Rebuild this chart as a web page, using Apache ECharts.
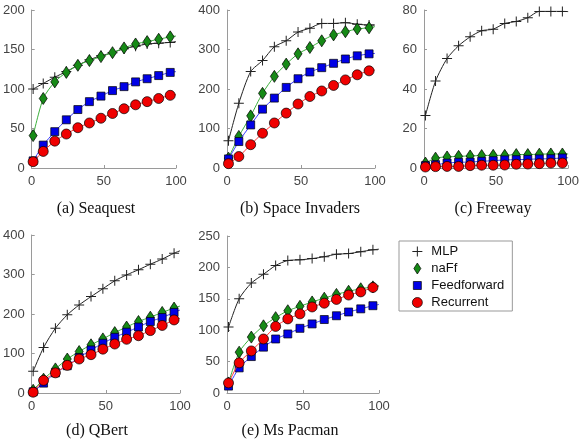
<!DOCTYPE html>
<html>
<head>
<meta charset="utf-8">
<script src="https://cdn.jsdelivr.net/npm/echarts@6/dist/echarts.min.js"></script>
<style>
  html, body { margin: 0; padding: 0; background: #fff; }
  #chart { width: 582px; height: 443px; }
</style>
</head>
<body>
<div id="chart"></div>
<script>
// x positions of the samples (last one is only the line end, no marker)
const xs = [1, 8, 16, 24, 32, 40, 48, 56, 64, 72, 80, 88, 96, 100];

const methods = ['MLP', 'naFf', 'Feedforward', 'Recurrent'];
const captions = ['(a) Seaquest', '(b) Space Invaders', '(c) Freeway', '(d) QBert', '(e) Ms Pacman'];
const yMax = [200, 400, 80, 400, 250];
const yStep = [50, 100, 20, 100, 50];
const xTicks = [0, 50, 100];

// (a) Seaquest
const seaquestMLP = [100, 107, 115, 122, 130, 137, 142, 146, 151, 154, 157, 158, 159, 160];
const seaquestNaFf = [41, 88, 109, 121, 130, 136, 141, 146, 152, 157, 160, 163, 166, 167];
const seaquestFF = [9, 29, 46, 61, 74, 84, 91, 98, 103, 109, 113, 117, 121, 122];
const seaquestRec = [8, 21, 34, 43, 51, 57, 63, 69, 75, 80, 84, 88, 92, 93];

// (b) Space Invaders
const invadersMLP = [69, 164, 244, 272, 307, 322, 344, 354, 366, 366, 368, 364, 362, 362];
const invadersNaFf = [25, 80, 132, 189, 232, 263, 289, 305, 322, 337, 345, 352, 355, 358];
const invadersFF = [23, 67, 109, 149, 177, 204, 226, 243, 254, 265, 276, 284, 289, 290];
const invadersRec = [11, 29, 59, 88, 114, 139, 162, 181, 195, 209, 223, 236, 246, 248];

// (c) Freeway
const freewayMLP = [26.6, 44, 55.4, 61.9, 66.4, 69.5, 70.3, 73.2, 74.2, 76.1, 79.3, 79.3, 79.3, 79.2];
const freewayNaFf = [2.5, 5, 5.6, 5.9, 6.1, 6.3, 6.4, 6.4, 6.8, 6.8, 7, 7.1, 7.1, 7.1];
const freewayFF = [1.2, 1.7, 2.5, 2.9, 3, 3.4, 3.7, 4.1, 4.2, 4.4, 4.6, 4.7, 5.1, 5.2];
const freewayRec = [0.5, 0.7, 0.8, 0.8, 1.2, 1.4, 1.4, 1.5, 1.9, 2, 2.2, 2.5, 2.5, 2.5];

// (d) QBert
const qbertMLP = [55, 115, 164, 198, 223, 244, 264, 284, 299, 312, 326, 339, 354, 360];
const qbertNaFf = [7, 35, 61, 86, 105, 122, 137, 153, 167, 181, 192, 204, 215, 220];
const qbertFF = [3, 25, 51, 69, 90, 109, 126, 141, 154, 167, 181, 191, 204, 210];
const qbertRec = [2, 32, 51, 70, 86, 97, 111, 124, 136, 145, 158, 171, 185, 189];

// (e) Ms Pacman
const pacmanMLP = [105, 150, 175, 189, 203, 211, 212, 214, 217, 221, 222, 225, 228, 229];
const pacmanNaFf = [16, 65, 89, 107, 120, 131, 138, 145, 151, 157, 162, 166, 169, 171];
const pacmanFF = [11, 40, 58, 73, 86, 94, 103, 110, 117, 123, 129, 134, 139, 141];
const pacmanRec = [16, 48, 67, 86, 106, 118, 126, 137, 143, 149, 156, 161, 168, 170];

const panels = [
  [seaquestMLP, seaquestNaFf, seaquestFF, seaquestRec],
  [invadersMLP, invadersNaFf, invadersFF, invadersRec],
  [freewayMLP, freewayNaFf, freewayFF, freewayRec],
  [qbertMLP, qbertNaFf, qbertFF, qbertRec],
  [pacmanMLP, pacmanNaFf, pacmanFF, pacmanRec]
];

// layout of the five plot areas
const grids = [
  { left: 29, top: 10, width: 147, height: 158 },
  { left: 227, top: 10, width: 148, height: 158 },
  { left: 424, top: 10, width: 149, height: 158 },
  { left: 29, top: 235, width: 151, height: 158 },
  { left: 227, top: 236, width: 152, height: 157 }
];
const captionPos = [[96, 209], [300, 209], [493, 209], [97, 431], [290, 431]];

const plusPath = 'path://M0,4.5H10V5.5H0Z M4.5,0H5.5V10H4.5Z';
const styles = [
  { symbol: plusPath, size: 10, fill: '#222', line: '#222', border: 0 },
  { symbol: 'diamond', size: [8, 12], fill: '#168a16', line: '#3cb03c', border: 0.7 },
  { symbol: 'rect', size: 8, fill: '#0000e6', line: '#3a3aff', border: 0.7 },
  { symbol: 'circle', size: 10, fill: '#f00000', line: '#ff3030', border: 0.7 }
];
// legend icons drawn in a 16x12 box so each keeps its own size
const legendIcons = [
  'path://M0,0M16,12M2,5.5H12V6.5H2Z M6.5,1H7.5V11H6.5Z',
  'path://M0,0M16,12M7,0.5L10.5,6L7,11.5L3.5,6Z',
  'path://M0,0M16,12M3,2H11V10H3Z',
  'path://M0,0M16,12M2,6A5,5 0 1,1 12,6A5,5 0 1,1 2,6Z'
];

const labelFont = { color: '#444', fontSize: 13, fontFamily: 'Liberation Sans, Arial, sans-serif' };
const axisGray = '#9a9a9a';

const xAxes = grids.map((g, i) => ({
  type: 'value', gridIndex: i, min: 0, max: 100, interval: 50,
  axisLine: { show: true, lineStyle: { color: axisGray, width: 1 } },
  axisTick: { show: true, inside: true, length: 3, lineStyle: { color: axisGray } },
  axisLabel: Object.assign({ margin: 7, showMinLabel: true, showMaxLabel: true }, labelFont),
  splitLine: { show: false }
}));
const yAxes = grids.map((g, i) => ({
  type: 'value', gridIndex: i, min: 0, max: yMax[i], interval: yStep[i],
  axisLine: { show: true, lineStyle: { color: axisGray, width: 1 } },
  axisTick: { show: true, inside: true, length: 3, lineStyle: { color: axisGray } },
  axisLabel: Object.assign({ margin: 7 }, labelFont),
  splitLine: { show: false }
}));

const series = [];
panels.forEach((vals, p) => {
  vals.forEach((arr, k) => {
    const st = styles[k];
    series.push({
      name: methods[k],
      type: 'line',
      xAxisIndex: p, yAxisIndex: p,
      smooth: 0.25,
      showAllSymbol: true,
      symbol: st.symbol,
      symbolSize: st.size,
      lineStyle: { color: st.line, width: 1 },
      itemStyle: { color: st.fill, borderColor: '#000', borderWidth: st.border, opacity: 1 },
      emphasis: { disabled: true },
      z: 2 + k,
      data: arr.map((y, j) => j === xs.length - 1
        ? { value: [xs[j], y], symbol: 'none' }
        : [xs[j], y])
    });
  });
});

const chart = echarts.init(document.getElementById('chart'), null, { renderer: 'canvas' });
chart.setOption({
  animation: false,
  backgroundColor: '#fff',
  grid: grids,
  xAxis: xAxes,
  yAxis: yAxes,
  legend: {
    orient: 'vertical',
    left: 399, top: 241,
    padding: [4, 8, 2, 11],
    itemWidth: 16, itemHeight: 12, itemGap: 4,
    borderColor: '#999', borderWidth: 1,
    selectedMode: false,
    textStyle: { color: '#111', fontSize: 13, fontFamily: 'Liberation Sans, Arial, sans-serif' },
    data: methods.map((m, k) => ({
      name: m,
      icon: legendIcons[k],
      itemStyle: { color: styles[k].fill, borderColor: '#000', borderWidth: styles[k].border }
    }))
  },
  graphic: captions.map((c, i) => ({
    type: 'text',
    x: captionPos[i][0], y: captionPos[i][1],
    style: {
      text: c, fill: '#111',
      font: '16px "Liberation Serif", "Times New Roman", serif',
      textAlign: 'center', textVerticalAlign: 'middle'
    }
  })),
  series: series
});
</script>
</body>
</html>
